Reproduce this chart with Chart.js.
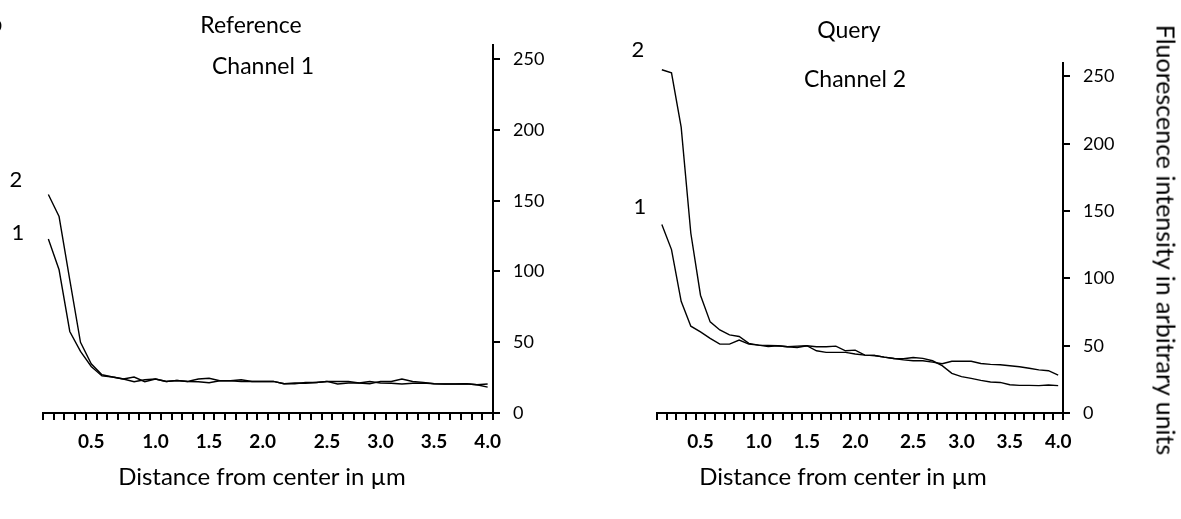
<!DOCTYPE html>
<html lang="en">
<head>
<meta charset="UTF-8">
<title>Fluorescence profiles</title>
<script src="https://cdn.jsdelivr.net/npm/chart.js"></script>
<style>
  body { margin: 0; background: #fff; color: #000; font-family: Lato, sans-serif; }
  #page { position: relative; width: 1181px; height: 519px; overflow: hidden; }
  canvas { position: absolute; top: 0; }
  .txt { position: absolute; white-space: nowrap; line-height: 1; transform: translateX(-50%); }
  .big { font-size: 23px; }
  .num { font-size: 22px; }
  .axis { font-size: 24px; top: 464px; }
</style>
</head>
<body>
<div id="page">
  <canvas id="refChart" width="590" height="519" style="left:0"></canvas>
  <canvas id="queryChart" width="591" height="519" style="left:590px"></canvas>

  <div class="txt big" style="left:-4px; top:12px">b</div>
  <div class="txt big" style="left:251px; top:13px">Reference</div>
  <div class="txt big" style="left:263px; top:54px">Channel 1</div>
  <div class="txt big" style="left:849px; top:18px">Query</div>
  <div class="txt big" style="left:855px; top:67px">Channel 2</div>

  <div class="txt num" style="left:16px; top:168px">2</div>
  <div class="txt num" style="left:18px; top:221px">1</div>
  <div class="txt num" style="left:638px; top:38px">2</div>
  <div class="txt num" style="left:640px; top:195px">1</div>

  <div class="txt axis" style="left:262px">Distance from center in µm</div>
  <div class="txt axis" style="left:843px">Distance from center in µm</div>
  <div class="txt" style="left:1166px; top:240px; font-size:25px; transform: translate(-50%, -50%) rotate(90deg)">Fluorescence intensity in arbitrary units</div>
</div>

<script>
// distance from center, one category per 0.1 µm step, only some are labelled
const xLabels = ['', '', '', '', '0.5', '', '', '', '', '', '1.0', '', '', '', '', '1.5', '', '', '', '', '2.0',
                 '', '', '', '', '', '2.5', '', '', '', '', '3.0', '', '', '', '', '3.5', '', '', '', '', '4.0'];

// Reference, channel 1
const refLine1 = [122.9, 101.2, 57.6, 43.5, 32.9, 26.2, 25.4, 24, 22.1, 23.5, 24, 22.3, 23, 22.3, 22.1, 21.4,
                  22.8, 22.8, 22.3, 22.3, 22.3, 22.3, 20.7, 21.2, 21, 21.6, 22.3, 20.5, 21.2, 21.2, 22.3, 21.2,
                  21, 20.5, 21, 21.2, 20.7, 20.5, 20.5, 20.7, 20, 20.5];
const refLine2 = [154.4, 138.8, 94, 49.9, 34.8, 27, 25.4, 24, 25.4, 22.1, 24, 22.3, 23, 22.3, 24, 24.5,
                  22.8, 22.8, 23.5, 22.3, 22.3, 22.3, 20.7, 20.7, 21.5, 21.6, 22.3, 22.3, 22.3, 21.2, 20.7, 22.3,
                  22.3, 24, 22.3, 21.6, 20.7, 20.5, 20.5, 20.7, 20, 18.3];

// Query, channel 2
const queryLine1 = [140, 121.4, 83, 64.5, 60.3, 55.4, 51.2, 51.2, 54.2, 51.2, 50.4, 49.4, 50, 49.2, 48.7, 50,
                    46.2, 45, 45, 45, 43.8, 43, 42.7, 41.5, 40.5, 40.3, 41.2, 40.6, 38.8, 35.2, 29.5, 27,
                    25.7, 24.2, 23, 22.7, 21, 20.5, 20.5, 20.3, 20.8, 20.3];
const queryLine2 = [255, 252.7, 212.4, 133.5, 87.5, 67.7, 61.7, 58, 56.8, 51.7, 50.4, 50.2, 50, 49.2, 49.7, 50,
                    49.2, 49.2, 49.7, 46.2, 46.7, 43, 42.7, 41.5, 40.5, 39.5, 38.8, 38.8, 37.8, 36.6, 38.4, 38.4,
                    38.4, 36.8, 36.1, 35.8, 35.1, 34.4, 33.2, 32, 31.4, 28.2];

const yMax = 260;
const yStep = 50;

function profileChart(id, line1, line2, box) {
    const lineStyle = { borderColor: '#000', borderWidth: 1.4, pointRadius: 0, tension: 0, fill: false };
    return new Chart(document.getElementById(id), {
        type: 'line',
        data: {
            labels: xLabels,
            datasets: [
                { label: '1', data: line1, ...lineStyle },
                { label: '2', data: line2, ...lineStyle },
            ],
        },
        options: {
            responsive: false,
            animation: false,
            events: [],
            layout: { padding: { left: box.left, top: box.top, right: 0, bottom: 0 } },
            plugins: { legend: { display: false }, tooltip: { enabled: false } },
            scales: {
                x: {
                    type: 'category',
                    offset: true,
                    grid: { offset: true, drawOnChartArea: false, tickLength: 7, color: '#000', lineWidth: 2 },
                    border: { color: '#000', width: 2 },
                    ticks: {
                        autoSkip: false, maxRotation: 0, padding: 10, color: '#000',
                        font: { family: 'Lato', size: 19, weight: 'bold' },
                    },
                    afterFit: s => { s.height = box.axisH; },
                },
                y: {
                    position: 'right',
                    min: 0,
                    max: yMax,
                    grid: { drawOnChartArea: false, tickLength: 7, color: '#000', lineWidth: 2 },
                    border: { color: '#000', width: 2 },
                    ticks: {
                        stepSize: yStep, includeBounds: false, padding: 13, color: '#000',
                        font: { family: 'Lato', size: 18 },
                    },
                    afterFit: s => { s.width = box.axisW; },
                },
            },
        },
    });
}

Promise.all([
    document.fonts.load('19px Lato'),
    document.fonts.load('bold 19px Lato'),
]).finally(() => {
    profileChart('refChart', refLine1, refLine2, { left: 43, top: 45, axisH: 106, axisW: 97 });
    profileChart('queryChart', queryLine1, queryLine2, { left: 67, top: 63, axisH: 106, axisW: 118 });
});
</script>
</body>
</html>
